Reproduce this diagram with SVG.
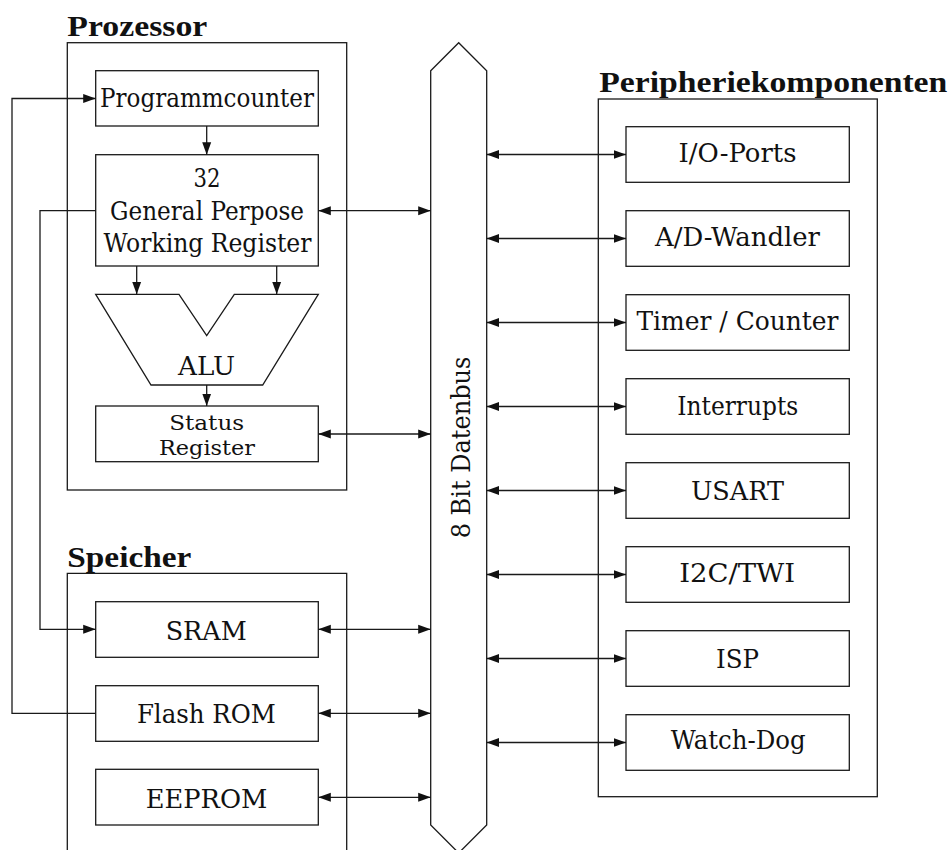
<svg xmlns="http://www.w3.org/2000/svg" width="950" height="850" viewBox="0 0 950 850">
<style>
.box{fill:#fff;stroke:#1a1a1a;stroke-width:1.3}
.frame{fill:none;stroke:#1a1a1a;stroke-width:1.3}
.t{font-family:'DejaVu Serif','Liberation Serif',serif;font-size:26px;fill:#111;text-anchor:middle}
.s{font-size:21px}
.h{font-family:'Liberation Serif','DejaVu Serif',serif;font-size:30px;font-weight:bold;fill:#111}
.ar{fill:none;stroke:#1a1a1a;stroke-width:1.3;marker-end:url(#ah)}
.bi{fill:none;stroke:#1a1a1a;stroke-width:1.3;marker-start:url(#ah);marker-end:url(#ah)}
</style>
<defs>
<marker id="ah" markerUnits="userSpaceOnUse" markerWidth="13" markerHeight="10" refX="12.5" refY="4.5" orient="auto-start-reverse" viewBox="0 0 13 9">
<path d="M0,0 L12.5,4.5 L0,9 z" fill="#111"/>
</marker>
</defs>
<rect width="950" height="850" fill="#fff"/>

<g id="prozessor">
<rect class="frame" x="67.3" y="42.7" width="279.4" height="447.3"/>
<text class="h" x="67.3" y="36" textLength="140" lengthAdjust="spacingAndGlyphs">Prozessor</text>
</g>
<g id="speicher">
<path class="frame" d="M67.3,860 V573.3 H346.7 V860"/>
<text class="h" x="67.3" y="566.7" textLength="124" lengthAdjust="spacingAndGlyphs">Speicher</text>
</g>
<g id="peripherie">
<rect class="frame" x="598.3" y="99" width="279" height="697.7"/>
<text class="h" x="599.3" y="91.7" textLength="348" lengthAdjust="spacingAndGlyphs">Peripheriekomponenten</text>
</g>

<g id="bus">
<polygon class="box" points="430.7,70.7 458.7,42.7 486.7,70.7 486.7,825 458.7,853 430.7,825"/>
<text class="t" transform="translate(469.5,447.5) rotate(-90)" textLength="181.6" lengthAdjust="spacingAndGlyphs">8 Bit Datenbus</text>
</g>

<g id="programmcounter">
<rect class="box" x="95.7" y="70.7" width="222.6" height="55.3"/>
<text class="t" x="207" y="106.7" textLength="214" lengthAdjust="spacingAndGlyphs">Programmcounter</text>
</g>
<g id="gpr">
<rect class="box" x="95.7" y="154.7" width="222.6" height="111.3"/>
<text class="t" x="207" y="186.7" textLength="27" lengthAdjust="spacingAndGlyphs">32</text>
<text class="t" x="207" y="219.5" textLength="194" lengthAdjust="spacingAndGlyphs">General Perpose</text>
<text class="t" x="207.5" y="251.5" textLength="208" lengthAdjust="spacingAndGlyphs">Working Register</text>
</g>
<g id="alu">
<polygon class="box" points="95.7,294.3 179,294.3 206.7,335.7 234.3,294.3 318.3,294.3 262.7,385 151,385"/>
<text class="t" x="206.5" y="375" textLength="57" lengthAdjust="spacingAndGlyphs">ALU</text>
</g>
<g id="status">
<rect class="box" x="95.7" y="406" width="222.6" height="55.7"/>
<text class="t s" x="206.7" y="430" textLength="75" lengthAdjust="spacingAndGlyphs">Status</text>
<text class="t s" x="207" y="455" textLength="96" lengthAdjust="spacingAndGlyphs">Register</text>
</g>

<g id="sram">
<rect class="box" x="95.7" y="601.7" width="222.6" height="55.6"/>
<text class="t" x="206.2" y="640" textLength="81" lengthAdjust="spacingAndGlyphs">SRAM</text>
</g>
<g id="flash">
<rect class="box" x="95.7" y="685.7" width="222.6" height="55.6"/>
<text class="t" x="206.4" y="723.3" textLength="139" lengthAdjust="spacingAndGlyphs">Flash ROM</text>
</g>
<g id="eeprom">
<rect class="box" x="95.7" y="769.3" width="222.6" height="55.7"/>
<text class="t" x="206.5" y="807.7" textLength="121.6" lengthAdjust="spacingAndGlyphs">EEPROM</text>
</g>

<g id="io">
<rect class="box" x="626" y="126.7" width="223.3" height="55.6"/>
<text class="t" x="737.5" y="161.7" textLength="118" lengthAdjust="spacingAndGlyphs">I/O-Ports</text>
</g>
<g id="ad">
<rect class="box" x="626" y="210.7" width="223.3" height="55.6"/>
<text class="t" x="737.5" y="245.7" textLength="165" lengthAdjust="spacingAndGlyphs">A/D-Wandler</text>
</g>
<g id="timer">
<rect class="box" x="626" y="294.7" width="223.3" height="55.6"/>
<text class="t" x="737.5" y="330" textLength="202" lengthAdjust="spacingAndGlyphs">Timer / Counter</text>
</g>
<g id="interrupts">
<rect class="box" x="626" y="378.7" width="223.3" height="55.6"/>
<text class="t" x="737.8" y="415" textLength="121" lengthAdjust="spacingAndGlyphs">Interrupts</text>
</g>
<g id="usart">
<rect class="box" x="626" y="462.7" width="223.3" height="55.6"/>
<text class="t" x="737.4" y="500" textLength="93" lengthAdjust="spacingAndGlyphs">USART</text>
</g>
<g id="i2c">
<rect class="box" x="626" y="546.7" width="223.3" height="55.6"/>
<text class="t" x="737.2" y="581.7" textLength="116" lengthAdjust="spacingAndGlyphs">I2C/TWI</text>
</g>
<g id="isp">
<rect class="box" x="626" y="630.7" width="223.3" height="55.6"/>
<text class="t" x="737.5" y="668.3" textLength="43" lengthAdjust="spacingAndGlyphs">ISP</text>
</g>
<g id="watchdog">
<rect class="box" x="626" y="714.7" width="223.3" height="55.6"/>
<text class="t" x="738.2" y="749" textLength="135" lengthAdjust="spacingAndGlyphs">Watch-Dog</text>
</g>

<g id="connectors">
<path class="ar" d="M206.7,126 V154.7"/>
<path class="ar" d="M136.7,266 V294.3"/>
<path class="ar" d="M276.7,266 V294.3"/>
<path class="ar" d="M206.7,385 V406"/>
<path class="ar" d="M95.7,713.3 H12 V98.5 H95.7"/>
<path class="ar" d="M95.7,210.7 H40 V629.3 H95.7"/>
<path class="bi" d="M318.3,210.7 H430.7"/>
<path class="bi" d="M318.3,434 H430.7"/>
<path class="bi" d="M318.3,629.3 H430.7"/>
<path class="bi" d="M318.3,713.3 H430.7"/>
<path class="bi" d="M318.3,797.3 H430.7"/>
<path class="bi" d="M486.7,154.5 H626"/>
<path class="bi" d="M486.7,238.5 H626"/>
<path class="bi" d="M486.7,322.5 H626"/>
<path class="bi" d="M486.7,406.5 H626"/>
<path class="bi" d="M486.7,490.5 H626"/>
<path class="bi" d="M486.7,574.5 H626"/>
<path class="bi" d="M486.7,658.5 H626"/>
<path class="bi" d="M486.7,742.5 H626"/>
</g>
</svg>
